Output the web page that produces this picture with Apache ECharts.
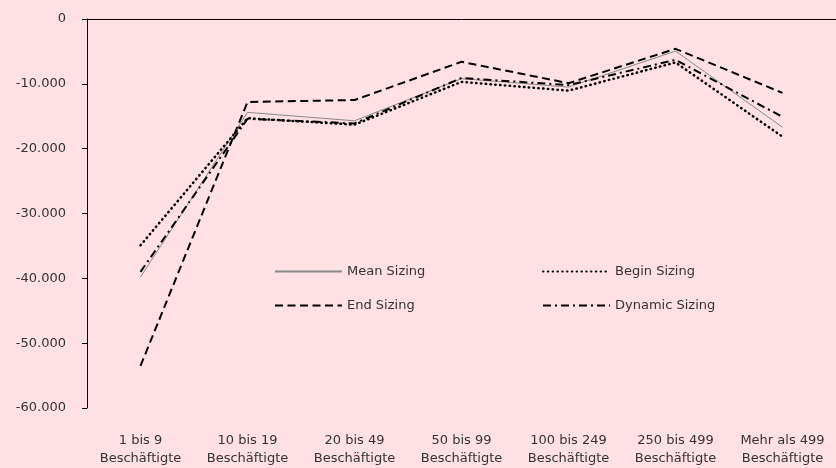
<!DOCTYPE html>
<html><head><meta charset="utf-8">
<script src="https://cdn.jsdelivr.net/npm/echarts@6/dist/echarts.min.js"></script>
<style>html,body{margin:0;padding:0;background:#FFE1E3;}#c{width:836px;height:468px;}</style>
</head><body><div id="c"></div>
<script>
const categories = ['1 bis 9\nBeschäftigte','10 bis 19\nBeschäftigte','20 bis 49\nBeschäftigte','50 bis 99\nBeschäftigte','100 bis 249\nBeschäftigte','250 bis 499\nBeschäftigte','Mehr als 499\nBeschäftigte'];
const meanSizing    = [-39800, -14400, -15700, -9200, -10500, -4950, -16700];
const beginSizing   = [-34900, -15300, -16300, -9700, -11050, -6700, -18150];
const endSizing     = [-53500, -12800, -12500, -6600, -9900, -4600, -11400];
const dynamicSizing = [-39000, -15400, -16100, -9100, -10200, -6300, -15100];
const yTicks = {min: -60000, max: 0, interval: 10000};

const font = 'DejaVu Sans';
const fmt = v => { const s = String(Math.abs(v)).replace(/\B(?=(\d{3})+(?!\d))/g, '.'); return (v < 0 ? '-' : '') + s; };
const chart = echarts.init(document.getElementById('c'));
const legendCommon = {orient: 'vertical', top: 260, itemWidth: 67, itemHeight: 14, itemGap: 21,
  itemStyle: {opacity: 0}, textStyle: {fontFamily: font, fontSize: 13, color: '#333'}};
chart.setOption({
  backgroundColor: '#FFE1E3',
  animation: false,
  grid: {left: 87, top: 19, width: 751, height: 389, containLabel: false},
  xAxis: [
    {type: 'category', data: categories, position: 'top', boundaryGap: true,
     axisLine: {lineStyle: {color: '#000', width: 1}},
     axisTick: {inside: true, length: 5, lineStyle: {color: '#000'}},
     axisLabel: {show: false}, splitLine: {show: false}},
    {type: 'category', data: categories, position: 'bottom', boundaryGap: true,
     axisLine: {show: false}, axisTick: {show: false}, splitLine: {show: false},
     axisLabel: {margin: 24, color: '#333', fontFamily: font, fontSize: 13, lineHeight: 18, interval: 0}}
  ],
  yAxis: {type: 'value', min: yTicks.min, max: yTicks.max, interval: yTicks.interval,
    axisLine: {show: true, onZero: false, lineStyle: {color: '#000', width: 1}},
    axisTick: {show: true, length: 5, lineStyle: {color: '#000'}},
    splitLine: {show: false},
    axisLabel: {formatter: fmt, margin: 21, color: '#333', fontFamily: font, fontSize: 13}},
  legend: [
    Object.assign({data: ['Mean Sizing', 'End Sizing'], left: 269}, legendCommon),
    Object.assign({data: ['Begin Sizing', 'Dynamic Sizing'], left: 537}, legendCommon)
  ],
  series: [
    {name: 'Mean Sizing', type: 'line', data: meanSizing, symbol: 'none', showSymbol: false, color: '#888',
     lineStyle: {color: '#888', width: 1, type: 'solid'}},
    {name: 'Begin Sizing', type: 'line', data: beginSizing, symbol: 'none', showSymbol: false, color: '#000',
     lineStyle: {color: '#000', width: 2.5, type: [0.5, 4.3], cap: 'round'}},
    {name: 'End Sizing', type: 'line', data: endSizing, symbol: 'none', showSymbol: false, color: '#000',
     lineStyle: {color: '#000', width: 2, type: [8, 4.5]}},
    {name: 'Dynamic Sizing', type: 'line', data: dynamicSizing, symbol: 'none', showSymbol: false, color: '#000',
     lineStyle: {color: '#000', width: 2, type: [8, 4, 2, 4]}}
  ]
});
</script></body></html>
